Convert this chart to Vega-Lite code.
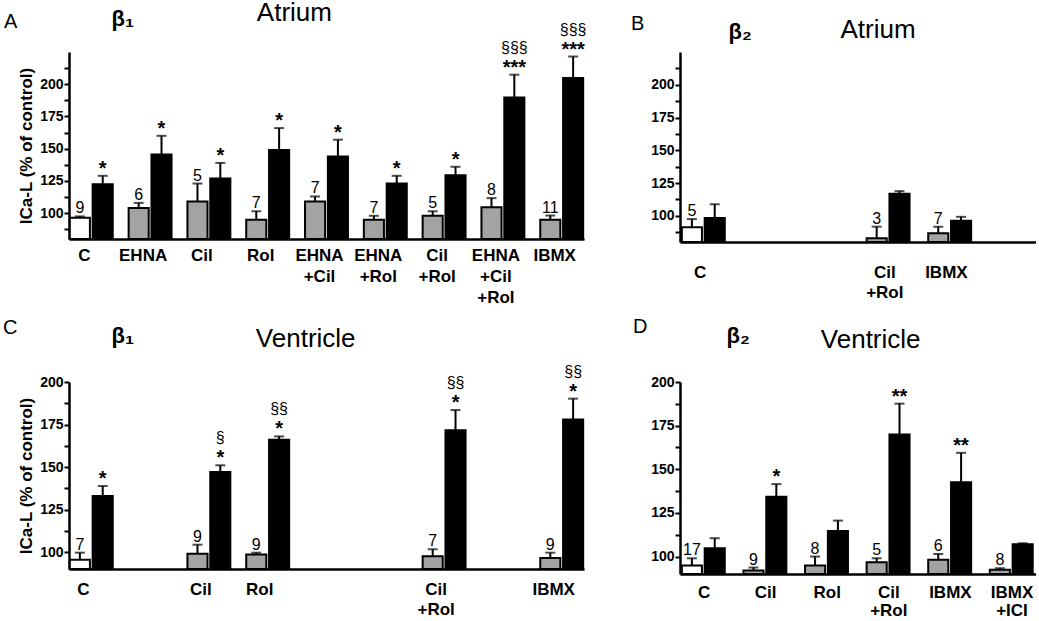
{
  "$schema": "https://vega.github.io/schema/vega-lite/v6.json",
  "background": "white",
  "padding": {"left": 3, "top": 0, "right": 0, "bottom": 0},
  "columns": 2,
  "bounds": "flush",
  "spacing": {"row": 140, "column": 96},
  "config": {
    "font": "Liberation Sans",
    "view": {"stroke": null},
    "title": {"fontSize": 20, "fontWeight": "normal", "color": "black", "subtitleFontSize": 26, "subtitleColor": "black", "subtitleFont": "Liberation Sans", "anchor": "start", "frame": "group"},
    "axis": {"domainColor": "black", "domainWidth": 2.5, "tickColor": "black", "tickWidth": 2, "tickSize": 5, "labelColor": "black", "labelFontWeight": "bold", "grid": false, "titleColor": "black"},
    "axisX": {"labelAngle": 0, "ticks": false, "labelFontSize": 17, "labelLineHeight": 20, "labelOverlap": false, "labelBound": false, "titleFontSize": 22, "titleFontWeight": "bold", "titleAlign": "left", "titleBaseline": "alphabetic", "titleAngle": 0},
    "axisY": {"labelFontSize": 14, "labelPadding": 1, "labelOverlap": false, "labelBound": false, "tickCount": 30, "titleFontSize": 17, "titleFontWeight": "bold", "titlePadding": 4}
  },
  "datasets": {
    "A": [
      {"grp": "C", "stim": "-", "cond": "basal", "mean": 96.5, "upper": 97.5, "n": "9", "stars": "", "sect": ""},
      {"grp": "C", "stim": "+", "cond": "stimulated", "mean": 122.5, "upper": 129, "n": "", "stars": "*", "sect": ""},
      {"grp": "EHNA", "stim": "-", "cond": "inhibitor", "mean": 104, "upper": 108, "n": "6", "stars": "", "sect": ""},
      {"grp": "EHNA", "stim": "+", "cond": "stimulated", "mean": 145.5, "upper": 160, "n": "", "stars": "*", "sect": ""},
      {"grp": "Cil", "stim": "-", "cond": "inhibitor", "mean": 109, "upper": 123, "n": "5", "stars": "", "sect": ""},
      {"grp": "Cil", "stim": "+", "cond": "stimulated", "mean": 127, "upper": 139, "n": "", "stars": "*", "sect": ""},
      {"grp": "Rol", "stim": "-", "cond": "inhibitor", "mean": 95, "upper": 101.5, "n": "7", "stars": "", "sect": ""},
      {"grp": "Rol", "stim": "+", "cond": "stimulated", "mean": 149, "upper": 166, "n": "", "stars": "*", "sect": ""},
      {"grp": "EHNA +Cil", "stim": "-", "cond": "inhibitor", "mean": 109, "upper": 113, "n": "7", "stars": "", "sect": ""},
      {"grp": "EHNA +Cil", "stim": "+", "cond": "stimulated", "mean": 144, "upper": 157, "n": "", "stars": "*", "sect": ""},
      {"grp": "EHNA +Rol", "stim": "-", "cond": "inhibitor", "mean": 95, "upper": 98, "n": "7", "stars": "", "sect": ""},
      {"grp": "EHNA +Rol", "stim": "+", "cond": "stimulated", "mean": 123, "upper": 129, "n": "", "stars": "*", "sect": ""},
      {"grp": "Cil +Rol", "stim": "-", "cond": "inhibitor", "mean": 98, "upper": 101.5, "n": "5", "stars": "", "sect": ""},
      {"grp": "Cil +Rol", "stim": "+", "cond": "stimulated", "mean": 129.4, "upper": 136, "n": "", "stars": "*", "sect": ""},
      {"grp": "EHNA +Cil +Rol", "stim": "-", "cond": "inhibitor", "mean": 104.6, "upper": 111.7, "n": "8", "stars": "", "sect": ""},
      {"grp": "EHNA +Cil +Rol", "stim": "+", "cond": "stimulated", "mean": 189.8, "upper": 207.4, "n": "", "stars": "***", "sect": "§§§"},
      {"grp": "IBMX", "stim": "-", "cond": "inhibitor", "mean": 95, "upper": 98.2, "n": "11", "stars": "", "sect": ""},
      {"grp": "IBMX", "stim": "+", "cond": "stimulated", "mean": 204.8, "upper": 221.5, "n": "", "stars": "***", "sect": "§§§"}
    ],
    "B": [
      {"grp": "C", "stim": "-", "cond": "basal", "mean": 91.2, "upper": 97.5, "n": "5", "stars": "", "sect": ""},
      {"grp": "C", "stim": "+", "cond": "stimulated", "mean": 98.3, "upper": 108.8, "n": "", "stars": "", "sect": ""},
      {"grp": "Cil +Rol", "stim": "-", "cond": "inhibitor", "mean": 82.9, "upper": 91.7, "n": "3", "stars": "", "sect": ""},
      {"grp": "Cil +Rol", "stim": "+", "cond": "stimulated", "mean": 116.8, "upper": 118.8, "n": "", "stars": "", "sect": ""},
      {"grp": "IBMX", "stim": "-", "cond": "inhibitor", "mean": 86.7, "upper": 91.7, "n": "7", "stars": "", "sect": ""},
      {"grp": "IBMX", "stim": "+", "cond": "stimulated", "mean": 96.2, "upper": 99.2, "n": "", "stars": "", "sect": ""}
    ],
    "C": [
      {"grp": "C", "stim": "-", "cond": "basal", "mean": 95.5, "upper": 99.6, "n": "7", "stars": "", "sect": ""},
      {"grp": "C", "stim": "+", "cond": "stimulated", "mean": 132.9, "upper": 138.8, "n": "", "stars": "*", "sect": ""},
      {"grp": "Cil", "stim": "-", "cond": "inhibitor", "mean": 99, "upper": 104.3, "n": "9", "stars": "", "sect": ""},
      {"grp": "Cil", "stim": "+", "cond": "stimulated", "mean": 147, "upper": 151, "n": "", "stars": "*", "sect": "§"},
      {"grp": "Rol", "stim": "-", "cond": "inhibitor", "mean": 98.6, "upper": 99.6, "n": "9", "stars": "", "sect": ""},
      {"grp": "Rol", "stim": "+", "cond": "stimulated", "mean": 166, "upper": 168, "n": "", "stars": "*", "sect": "§§"},
      {"grp": "Cil +Rol", "stim": "-", "cond": "inhibitor", "mean": 97.5, "upper": 101.6, "n": "7", "stars": "", "sect": ""},
      {"grp": "Cil +Rol", "stim": "+", "cond": "stimulated", "mean": 171.6, "upper": 183.5, "n": "", "stars": "*", "sect": "§§"},
      {"grp": "IBMX", "stim": "-", "cond": "inhibitor", "mean": 96.5, "upper": 99.6, "n": "9", "stars": "", "sect": ""},
      {"grp": "IBMX", "stim": "+", "cond": "stimulated", "mean": 178, "upper": 190.2, "n": "", "stars": "*", "sect": "§§"}
    ],
    "D": [
      {"grp": "C", "stim": "-", "cond": "basal", "mean": 94.9, "upper": 99, "n": "17", "stars": "", "sect": ""},
      {"grp": "C", "stim": "+", "cond": "stimulated", "mean": 104.8, "upper": 110.5, "n": "", "stars": "", "sect": ""},
      {"grp": "Cil", "stim": "-", "cond": "inhibitor", "mean": 92, "upper": 93.7, "n": "9", "stars": "", "sect": ""},
      {"grp": "Cil", "stim": "+", "cond": "stimulated", "mean": 134.3, "upper": 141.5, "n": "", "stars": "*", "sect": ""},
      {"grp": "Rol", "stim": "-", "cond": "inhibitor", "mean": 94.9, "upper": 100, "n": "8", "stars": "", "sect": ""},
      {"grp": "Rol", "stim": "+", "cond": "stimulated", "mean": 114.7, "upper": 120.6, "n": "", "stars": "", "sect": ""},
      {"grp": "Cil +Rol", "stim": "-", "cond": "inhibitor", "mean": 96.8, "upper": 99, "n": "5", "stars": "", "sect": ""},
      {"grp": "Cil +Rol", "stim": "+", "cond": "stimulated", "mean": 169.9, "upper": 187.6, "n": "", "stars": "**", "sect": ""},
      {"grp": "IBMX", "stim": "-", "cond": "inhibitor", "mean": 98.1, "upper": 101.5, "n": "6", "stars": "", "sect": ""},
      {"grp": "IBMX", "stim": "+", "cond": "stimulated", "mean": 142.5, "upper": 159.4, "n": "", "stars": "**", "sect": ""},
      {"grp": "IBMX +ICI", "stim": "-", "cond": "inhibitor", "mean": 92.4, "upper": 93.3, "n": "8", "stars": "", "sect": ""},
      {"grp": "IBMX +ICI", "stim": "+", "cond": "stimulated", "mean": 107, "upper": 107.6, "n": "", "stars": "", "sect": ""}
    ]
  },
  "concat": [
    {
      "width": 515, "height": 187,
      "data": {"name": "A"},
      "title": {"text": "A", "subtitle": "\u200b\u00a0\u00a0\u00a0\u00a0\u00a0\u00a0\u00a0\u00a0\u00a0\u00a0\u00a0\u00a0\u00a0\u00a0\u00a0\u00a0\u00a0\u00a0\u00a0\u00a0\u00a0\u00a0\u00a0\u00a0\u00a0\u00a0\u00a0\u00a0\u00a0\u00a0\u00a0\u00a0\u00a0\u00a0\u00a0Atrium", "dx": -65, "offset": -37, "subtitlePadding": -32},
      "encoding": {
        "x": {"field": "grp", "type": "nominal", "sort": null,
              "scale": {"domain": ["C", "EHNA", "Cil", "Rol", "EHNA +Cil", "EHNA +Rol", "Cil +Rol", "EHNA +Cil +Rol", "IBMX"], "paddingInner": 0.27, "paddingOuter": 0.014},
              "axis": {"title": "β₁", "titleX": 42, "titleY": -214, "labelExpr": "split(datum.label, ' ')", "labelOffset": -7, "labelPadding": 8, "labelLineHeight": 21}},
        "xOffset": {"field": "stim", "type": "nominal", "scale": {"domain": ["-", "+"], "paddingInner": 0.12}}
      },
      "layer": [
        {"mark": {"type": "bar", "stroke": "black", "strokeWidth": 2},
         "encoding": {
           "y": {"field": "mean", "type": "quantitative", "scale": {"domain": [80, 225], "nice": false, "zero": false},
                 "axis": {"values": [87.5, 100, 112.5, 125, 137.5, 150, 162.5, 175, 187.5, 200, 212.5], "labelExpr": "datum.value % 25 === 0 ? datum.label : ''", "title": "ICa-L (% of control)"}},
           "y2": {"datum": 80},
           "fill": {"field": "cond", "type": "nominal", "scale": {"domain": ["basal", "inhibitor", "stimulated"], "range": ["#ffffff", "#a3a3a3", "#000000"]}, "legend": null}
         }},
        {"mark": {"type": "rule", "strokeWidth": 2, "color": "black"}, "encoding": {"y": {"field": "mean", "type": "quantitative"}, "y2": {"field": "upper"}}},
        {"mark": {"type": "tick", "thickness": 2, "size": 10, "color": "black"}, "encoding": {"y": {"field": "upper", "type": "quantitative"}}},
        {"mark": {"type": "text", "fontSize": 16, "baseline": "alphabetic", "dy": -3, "color": "black"}, "encoding": {"y": {"field": "upper", "type": "quantitative"}, "text": {"field": "n", "type": "nominal"}}},
        {"mark": {"type": "text", "fontSize": 20, "fontWeight": "bold", "baseline": "alphabetic", "dy": -1, "color": "black"}, "encoding": {"y": {"field": "upper", "type": "quantitative"}, "text": {"field": "stars", "type": "nominal"}}},
        {"mark": {"type": "text", "fontSize": 16, "baseline": "alphabetic", "dy": -22, "color": "black"}, "encoding": {"y": {"field": "upper", "type": "quantitative"}, "text": {"field": "sect", "type": "nominal"}}}
      ]
    },
    {
      "width": 356, "height": 190,
      "data": {"name": "B"},
      "title": {"text": "B", "subtitle": "\u200b\u00a0\u00a0\u00a0\u00a0\u00a0\u00a0\u00a0\u00a0\u00a0\u00a0\u00a0\u00a0\u00a0\u00a0\u00a0\u00a0\u00a0\u00a0\u00a0\u00a0\u00a0\u00a0\u00a0\u00a0\u00a0\u00a0\u00a0\u00a0\u00a0Atrium", "dx": -49, "offset": -23, "subtitlePadding": -17},
      "encoding": {
        "x": {"field": "grp", "type": "nominal", "sort": null,
              "scale": {"domain": ["C", "Cil", "Rol", "Cil +Rol", "IBMX", "IBMX +ICI"], "paddingInner": 0.28, "paddingOuter": 0.03},
              "axis": {"title": "β₂", "titleX": 48, "titleY": -204, "labelExpr": "indexof(['C', 'Cil +Rol', 'IBMX'], datum.label) >= 0 ? split(datum.label, ' ') : ''", "labelOffset": -4, "labelPadding": 22}},
        "xOffset": {"field": "stim", "type": "nominal", "scale": {"domain": ["-", "+"], "paddingInner": 0.12}}
      },
      "layer": [
        {"mark": {"type": "bar", "stroke": "black", "strokeWidth": 2},
         "encoding": {
           "y": {"field": "mean", "type": "quantitative", "scale": {"domain": [80, 225], "nice": false, "zero": false},
                 "axis": {"values": [87.5, 100, 112.5, 125, 137.5, 150, 162.5, 175, 187.5, 200, 212.5], "labelExpr": "datum.value % 25 === 0 ? datum.label : ''", "title": null}},
           "y2": {"datum": 80},
           "fill": {"field": "cond", "type": "nominal", "scale": {"domain": ["basal", "inhibitor", "stimulated"], "range": ["#ffffff", "#a3a3a3", "#000000"]}, "legend": null}
         }},
        {"mark": {"type": "rule", "strokeWidth": 2, "color": "black"}, "encoding": {"y": {"field": "mean", "type": "quantitative"}, "y2": {"field": "upper"}}},
        {"mark": {"type": "tick", "thickness": 2, "size": 10, "color": "black"}, "encoding": {"y": {"field": "upper", "type": "quantitative"}}},
        {"mark": {"type": "text", "fontSize": 16, "baseline": "alphabetic", "dy": -3, "color": "black"}, "encoding": {"y": {"field": "upper", "type": "quantitative"}, "text": {"field": "n", "type": "nominal"}}}
      ]
    },
    {
      "width": 515, "height": 187,
      "data": {"name": "C"},
      "title": {"text": "C", "subtitle": "\u200b\u00a0\u00a0\u00a0\u00a0\u00a0\u00a0\u00a0\u00a0\u00a0\u00a0\u00a0\u00a0\u00a0\u00a0\u00a0\u00a0\u00a0\u00a0\u00a0\u00a0\u00a0\u00a0\u00a0\u00a0\u00a0\u00a0\u00a0\u00a0\u00a0\u00a0\u00a0\u00a0\u00a0\u00a0\u00a0Ventricle", "dx": -66, "offset": -28, "subtitlePadding": -12},
      "encoding": {
        "x": {"field": "grp", "type": "nominal", "sort": null,
              "scale": {"domain": ["C", "EHNA", "Cil", "Rol", "EHNA +Cil", "EHNA +Rol", "Cil +Rol", "EHNA +Cil +Rol", "IBMX"], "paddingInner": 0.27, "paddingOuter": 0.014},
              "axis": {"title": "β₁", "titleX": 42, "titleY": -227, "labelExpr": "indexof(['C', 'Cil', 'Rol', 'Cil +Rol', 'IBMX'], datum.label) >= 0 ? split(datum.label, ' ') : ''", "labelOffset": -8, "labelPadding": 12}},
        "xOffset": {"field": "stim", "type": "nominal", "scale": {"domain": ["-", "+"], "paddingInner": 0.12}}
      },
      "layer": [
        {"mark": {"type": "bar", "stroke": "black", "strokeWidth": 2},
         "encoding": {
           "y": {"field": "mean", "type": "quantitative", "scale": {"domain": [90, 200], "nice": false, "zero": false},
                 "axis": {"values": [100, 112.5, 125, 137.5, 150, 162.5, 175, 187.5, 200], "labelExpr": "datum.value % 25 === 0 ? datum.label : ''", "title": "ICa-L (% of control)"}},
           "y2": {"datum": 90},
           "fill": {"field": "cond", "type": "nominal", "scale": {"domain": ["basal", "inhibitor", "stimulated"], "range": ["#ffffff", "#9a9a9a", "#000000"]}, "legend": null}
         }},
        {"mark": {"type": "rule", "strokeWidth": 2, "color": "black"}, "encoding": {"y": {"field": "mean", "type": "quantitative"}, "y2": {"field": "upper"}}},
        {"mark": {"type": "tick", "thickness": 2, "size": 10, "color": "black"}, "encoding": {"y": {"field": "upper", "type": "quantitative"}}},
        {"mark": {"type": "text", "fontSize": 16, "baseline": "alphabetic", "dy": -3, "color": "black"}, "encoding": {"y": {"field": "upper", "type": "quantitative"}, "text": {"field": "n", "type": "nominal"}}},
        {"mark": {"type": "text", "fontSize": 20, "fontWeight": "bold", "baseline": "alphabetic", "dy": -1, "color": "black"}, "encoding": {"y": {"field": "upper", "type": "quantitative"}, "text": {"field": "stars", "type": "nominal"}}},
        {"mark": {"type": "text", "fontSize": 16, "baseline": "alphabetic", "dy": -22, "color": "black"}, "encoding": {"y": {"field": "upper", "type": "quantitative"}, "text": {"field": "sect", "type": "nominal"}}}
      ]
    },
    {
      "width": 356, "height": 192,
      "data": {"name": "D"},
      "title": {"text": "D", "subtitle": "\u200b\u00a0\u00a0\u00a0\u00a0\u00a0\u00a0\u00a0\u00a0\u00a0\u00a0\u00a0\u00a0\u00a0\u00a0\u00a0\u00a0\u00a0\u00a0\u00a0\u00a0\u00a0\u00a0\u00a0\u00a0\u00a0\u00a0Ventricle", "dx": -47, "offset": -29, "subtitlePadding": -10},
      "encoding": {
        "x": {"field": "grp", "type": "nominal", "sort": null,
              "scale": {"domain": ["C", "Cil", "Rol", "Cil +Rol", "IBMX", "IBMX +ICI"], "paddingInner": 0.28, "paddingOuter": 0.03},
              "axis": {"title": "β₂", "titleX": 46, "titleY": -232, "labelExpr": "split(datum.label, ' ')", "labelOffset": 0, "labelPadding": 10, "labelLineHeight": 18}},
        "xOffset": {"field": "stim", "type": "nominal", "scale": {"domain": ["-", "+"], "paddingInner": 0.12}}
      },
      "layer": [
        {"mark": {"type": "bar", "stroke": "black", "strokeWidth": 2},
         "encoding": {
           "y": {"field": "mean", "type": "quantitative", "scale": {"domain": [90, 200], "nice": false, "zero": false},
                 "axis": {"values": [100, 112.5, 125, 137.5, 150, 162.5, 175, 187.5, 200], "labelExpr": "datum.value % 25 === 0 ? datum.label : ''", "title": null}},
           "y2": {"datum": 90},
           "fill": {"field": "cond", "type": "nominal", "scale": {"domain": ["basal", "inhibitor", "stimulated"], "range": ["#ffffff", "#a3a3a3", "#000000"]}, "legend": null}
         }},
        {"mark": {"type": "rule", "strokeWidth": 2, "color": "black"}, "encoding": {"y": {"field": "mean", "type": "quantitative"}, "y2": {"field": "upper"}}},
        {"mark": {"type": "tick", "thickness": 2, "size": 10, "color": "black"}, "encoding": {"y": {"field": "upper", "type": "quantitative"}}},
        {"mark": {"type": "text", "fontSize": 16, "baseline": "alphabetic", "dy": -3, "color": "black"}, "encoding": {"y": {"field": "upper", "type": "quantitative"}, "text": {"field": "n", "type": "nominal"}}},
        {"mark": {"type": "text", "fontSize": 20, "fontWeight": "bold", "baseline": "alphabetic", "dy": -1, "color": "black"}, "encoding": {"y": {"field": "upper", "type": "quantitative"}, "text": {"field": "stars", "type": "nominal"}}}
      ]
    }
  ]
}
